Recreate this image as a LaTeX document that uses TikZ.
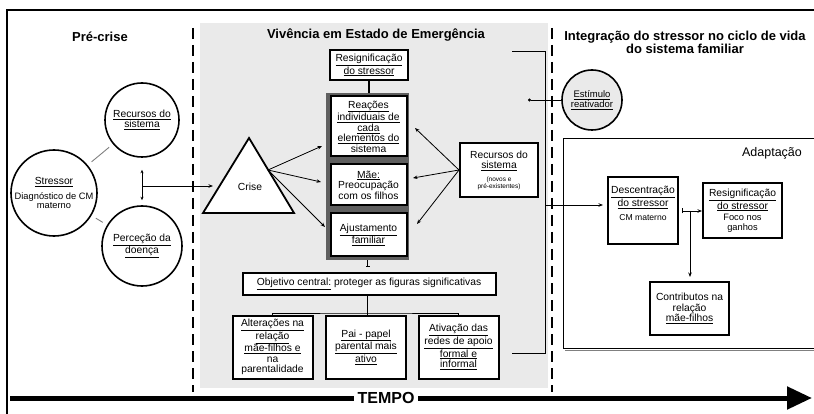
\documentclass[tikz,border=0pt]{standalone}
\usepackage{fontspec}
\setmainfont{Liberation Sans}
\usetikzlibrary{arrows.meta,calc}
\definecolor{bgray}{RGB}{234,234,234}
\definecolor{dgray}{RGB}{95,95,95}
\newcommand{\tinyf}{\fontsize{6.5}{7.2}\selectfont}
\newcommand{\smallf}{\fontsize{9.3}{9.8}\selectfont}
\newcommand{\cmf}{\fontsize{8.6}{9}\selectfont}
\begin{document}
\begin{tikzpicture}[x=1pt,y=-1pt,
  fs/.style={font=\fontsize{10.3}{10.5}\selectfont},
  bx/.style={draw, line width=2pt, fill=white, align=center, inner sep=1pt, fs},
  circ/.style={draw, circle, line width=1.6pt, align=center, inner sep=0pt, fs},
  ttl/.style={font=\fontsize{13}{14}\selectfont\bfseries, align=center},
  arr/.style={-{Stealth[length=4.5pt,width=3.5pt]}, line width=0.8pt},
  thin/.style={line width=0.9pt},
  sepline/.style={line width=1.6pt, dash pattern=on 11pt off 6pt}
]
\useasboundingbox (0,0) rectangle (814,414);
\fill[white] (0,0) rectangle (814,414);
% frame
\draw[line width=1.5pt] (7,418) -- (7,10) -- (818,10);
% gray zone
\fill[bgray] (200,23) rectangle (548,388);
% separators
\draw[sepline] (193,28) -- (193,392);
\draw[sepline] (552,28) -- (552,392);

% titles
\node[ttl] (t1) at (100,37) {Pré-crise};
\node[ttl] (t2) at (376,35) {Vivência em Estado de Emergência};
\node[ttl] (t3) at (685,42) {Integração do stressor no ciclo de vida\\[-1pt]do sistema familiar};

% pre-crisis circles
\node[circ, minimum size=74] (rc) at (142,120) {\underline{Recursos do}\\\underline{sistema}};
\node[circ, minimum size=80] (pc) at (142,246) {\underline{Perceção da}\\\underline{doença}};
\node[circ, minimum size=86] (sc) at (54,193) {\underline{Stressor}\\[4pt]\smallf Diagnóstico de CM\\[-1pt]\smallf materno};
\draw[gray, thin, shorten <=5pt, shorten >=5pt] (sc) -- (rc);
\draw[gray, thin, shorten <=5pt, shorten >=5pt] (sc) -- (pc);
\draw[{Stealth[length=3.5pt,width=3pt]}-{Stealth[length=3.5pt,width=3pt]}, line width=0.8pt]
  ([yshift=-12pt]rc.south) -- ([yshift=5pt]pc.north);
\coordinate (j1) at (142,186);
\coordinate (cin) at (213,186);
\draw[arr] (j1) -- (cin);

% crise triangle
\coordinate (tA) at (249,138);
\coordinate (tL) at (203,213);
\coordinate (tR) at (294,213);
\draw[line width=1.8pt, fill=white, line join=miter] (tA) -- (tL) -- (tR) -- cycle;
\node[fs] (crise) at (250,187) {Crise};

% central column
\node[bx, minimum width=78, minimum height=30] (res1) at (369,65) {\underline{Resignificação}\\\underline{do stressor}};
\node[fill=dgray, minimum width=83, minimum height=167, inner sep=0pt] (stack) at (367.5,176.5) {};
\node[bx, minimum width=76, minimum height=60] (reac) at (368.5,126.5)
  {\underline{Reações}\\\underline{individuais de}\\\underline{cada}\\\underline{elementos do}\\sistema};
\node[bx, minimum width=76, minimum height=41] (mae) at (368.5,185)
  {\underline{Mãe:}\\Preocupação\\com os filhos};
\node[bx, minimum width=76, minimum height=43] (ajus) at (368.5,235)
  {\underline{Ajustamento}\\\underline{familiar}};
\draw[line width=1.2pt] (res1.south) -- (res1.south |- stack.north);

\node[bx, minimum width=253, minimum height=22] (obj) at (369,283.5)
  {\underline{Objetivo central:} proteger as figuras significativas};
\draw[line width=1pt, -{Bar[width=4pt]}, shorten >=5pt] (stack.south) -- (stack.south |- obj.north);

\node[bx, minimum width=80, minimum height=63] (alt) at (272.5,347)
  {\underline{Alterações na}\\\underline{relação}\\\underline{mãe-filhos e}\\na\\parentalidade};
\node[bx, minimum width=80, minimum height=63] (pai) at (366,347)
  {\underline{Pai - papel}\\\underline{parental mais}\\\underline{ativo}};
\node[bx, minimum width=80, minimum height=63] (ativ) at (458.5,347)
  {\underline{Ativação das}\\\underline{redes de apoio}\\\underline{formal e}\\\underline{informal}};
\coordinate (hb) at (367,313);
\draw[line width=1pt] (obj.south -| hb) -- (hb);
\draw[line width=1pt] (alt.north) |- (hb) -| (ativ.north);
\draw[line width=1pt] (hb) -- (hb |- pai.north);

% crise arrows
\coordinate (cr) at (268,170);
\coordinate (e1) at (322,146);
\coordinate (e2) at (321,182);
\coordinate (e3) at (325,227);
\draw[arr] (cr) -- (e1);
\draw[arr] (cr) -- (e2);
\draw[arr] (cr) -- (e3);

% recursos box
\node[bx, minimum width=78, minimum height=54] (rs) at (499,170)
  {Recursos do\\\underline{sistema}\\[2pt]\tinyf (novos e\\[-3.5pt]\tinyf pré-existentes)};
\coordinate (f1) at (415,128);
\coordinate (f2) at (413,178);
\coordinate (f3) at (417,224);
\draw[arr] (rs.west) -- (f1);
\draw[arr] (rs.west) -- (f2);
\draw[arr] (rs.west) -- (f3);

% right bracket
\coordinate (bt) at (512,52);
\coordinate (bv1) at (545,52);
\coordinate (bv2) at (545,353);
\coordinate (bb) at (512,353);
\draw[line width=1pt] (bt) -- (bv1) -- (bv2) -- (bb);

% estimulo
\node[circ, fill=bgray, minimum size=60, font=\fontsize{9.5}{10}\selectfont] (est) at (592,100)
  {\underline{Estímulo}\\\underline{reativador}};
\coordinate (dot) at (528,100);
\draw[line width=0.8pt, -{Circle[length=3pt]}] (est) -- (dot);

% adaptacao
\draw[gray, line width=1pt] (565,350) -- (818,350);
\draw[line width=0.9pt] (563,138) rectangle (818,348);
\node[font=\fontsize{12.5}{14}\selectfont] (adap) at (772,153) {Adaptação};

\node[bx, minimum width=70, minimum height=67] (desc) at (643,210.5)
  {\underline{Descentração}\\\underline{do stressor}\\[3pt]\cmf CM materno\\[4pt]~};
\node[bx, minimum width=79, minimum height=55] (resr) at (742.5,210.5)
  {\underline{Resignificação}\\\underline{do stressor}\\[1pt]\smallf Foco nos\\[-1pt]\smallf ganhos};
\node[bx, minimum width=79, minimum height=53] (contr) at (689.5,308.5)
  {Contributos na\\relação\\\underline{mãe-filhos}};

\coordinate (j2) at (545,205);
\draw[arr, shorten >=4pt] (j2) -- (j2 -| desc.west);
\coordinate (ta) at (682,211);
\coordinate (tb) at (690,211);
\draw[line width=0.8pt, {Bar[width=5pt]}-{Stealth[length=4.5pt,width=3.5pt]}] (ta) -- (ta -| resr.west);
\draw[arr, shorten >=4pt] (tb) -- (tb |- contr.north);

% tempo
\coordinate (ts) at (10,398);
\coordinate (te) at (812,398);
\draw[line width=5pt, -{Triangle[length=25pt,width=22pt]}] (ts) -- (te);
\node[fill=white, font=\fontsize{16}{18}\selectfont\bfseries, inner xsep=4pt, inner ysep=1pt] (tempo) at (386,398) {TEMPO};
\end{tikzpicture}
\end{document}
